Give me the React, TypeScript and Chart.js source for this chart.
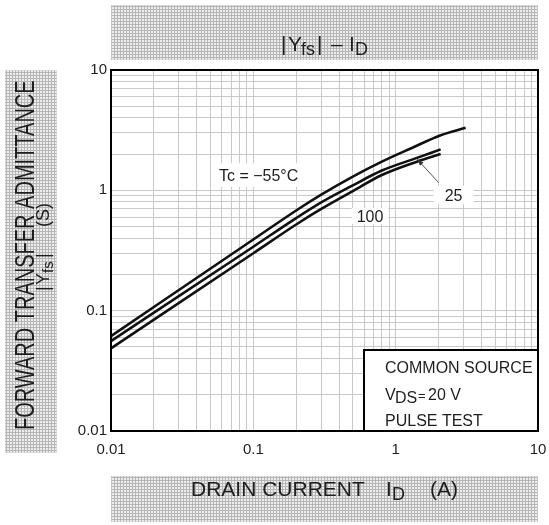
import React, { useEffect, useRef } from 'react';
import { Chart, registerables } from 'chart.js';

Chart.register(...registerables);

// Drain current ID (A) and forward transfer admittance |Yfs| (S)
const idCold = [0.01, 0.1, 0.2, 0.3, 0.5, 0.8, 1.3, 2.05, 3.1];
const yfsCold = [0.0615, 0.39, 0.68, 0.92, 1.3, 1.73, 2.25, 2.86, 3.31];
const idRoom = [0.01, 0.1, 0.2, 0.3, 0.5, 0.8, 1.41, 2.07];
const yfsRoom = [0.0559, 0.34, 0.588, 0.794, 1.1, 1.46, 1.86, 2.19];
const idHot = [0.01, 0.1, 0.2, 0.3, 0.5, 0.8, 1.41, 2.07];
const yfsHot = [0.0486, 0.3, 0.52, 0.7, 0.985, 1.34, 1.73, 2.0];

const seriesLabels = ['Tc = −55°C', '25', '100'];
const decades = [0.01, 0.1, 1, 10];
const tickLabels = ['0.01', '0.1', '1', '10'];
const minorSteps = [1, 2, 3, 4, 5, 6, 7, 8, 9];

const FONT = "'Liberation Sans', Arial, Helvetica, sans-serif";
const INK = '#1e1e1e';

type Run = [string, number, number, number]; // text, dx, size, dy

function drawRuns(ctx: CanvasRenderingContext2D, runs: Run[], x0: number, y0: number) {
  for (const [t, dx, size, dy] of runs) {
    ctx.font = `${size}px ${FONT}`;
    ctx.fillText(t, x0 + dx, y0 + dy);
  }
}

function makePattern(ctx: CanvasRenderingContext2D) {
  const c = document.createElement('canvas');
  c.width = 3;
  c.height = 3;
  const p = c.getContext('2d')!;
  p.fillStyle = '#ededed';
  p.fillRect(0, 0, 3, 3);
  p.fillStyle = '#b6b6b6';
  p.fillRect(0, 0, 3, 1);
  p.fillRect(0, 0, 1, 3);
  return ctx.createPattern(c, 'repeat')!;
}

function labelFor(v: number) {
  const i = decades.findIndex((d) => Math.abs(d - v) < d * 1e-6);
  return i >= 0 ? tickLabels[i] : '';
}

const gridValues = decades
  .slice(0, 3)
  .flatMap((d) => minorSteps.map((m) => +(d * m).toPrecision(3)))
  .concat([decades[3]]);

const annotations = [
  { text: seriesLabels[0], x: 0.109, y: 1.34, padX: 6, padY: 12 },
  { text: seriesLabels[1], x: 2.55, y: 0.914, padX: 11, padY: 9 },
  { text: seriesLabels[2], x: 0.66, y: 0.611, padX: 5, padY: 8 },
];
const arrowFrom = { x: 2.0, y: 1.16 };
const arrowTo = { x: 1.42, y: 1.81 };

const decor = {
  id: 'decor',
  beforeDraw(chart: any) {
    const ctx: CanvasRenderingContext2D = chart.ctx;
    ctx.save();
    ctx.fillStyle = '#ffffff';
    ctx.fillRect(0, 0, chart.width, chart.height);
    const pat = makePattern(ctx);
    const boxes = [
      [111, 5, 427, 55],
      [5, 70, 52, 383],
      [111, 476, 427, 46],
    ];
    for (const [x, y, w, h] of boxes) {
      ctx.fillStyle = pat;
      ctx.fillRect(x, y, w, h);
      ctx.strokeStyle = '#d4d4d4';
      ctx.lineWidth = 1;
      ctx.setLineDash([1, 1]);
      ctx.strokeRect(x + 0.5, y + 0.5, w - 1, h - 1);
      ctx.setLineDash([]);
    }
    ctx.fillStyle = INK;
    ctx.textAlign = 'left';
    ctx.textBaseline = 'alphabetic';
    // Title |Yfs| – ID
    drawRuns(ctx, [
      ['|', 0, 21, 0],
      ['Y', 7, 21, 0],
      ['fs', 20, 18, 4],
      ['|', 36, 21, 0],
      ['–', 50, 21, 0],
      ['I', 68, 21, 0],
      ['D', 74, 18, 4],
    ], 281, 51);
    // X axis title
    drawRuns(ctx, [
      ['DRAIN CURRENT', 0, 21, 0],
      ['I', 195, 21, 0],
      ['D', 201, 18, 4],
      ['(A)', 239, 21, 0],
    ], 191, 496);
    // Y axis title
    ctx.save();
    ctx.translate(34, 430);
    ctx.rotate(-Math.PI / 2);
    ctx.scale(1, 1.38);
    ctx.font = `20px ${FONT}`;
    ctx.fillText('FORWARD TRANSFER ADMITTANCE', 0, 0);
    ctx.restore();
    ctx.save();
    ctx.translate(49, 291);
    ctx.rotate(-Math.PI / 2);
    drawRuns(ctx, [
      ['|', 0, 18, 0],
      ['Y', 6, 18, 0],
      ['fs', 18, 15, 4],
      ['|', 33, 18, 0],
      ['(S)', 64, 18, 0],
    ], 0, 0);
    ctx.restore();
    ctx.restore();
  },
  beforeDatasetsDraw(chart: any) {
    const ctx: CanvasRenderingContext2D = chart.ctx;
    const xs = chart.scales.x;
    const ys = chart.scales.y;
    ctx.save();
    ctx.font = `16px ${FONT}`;
    ctx.textAlign = 'center';
    ctx.textBaseline = 'alphabetic';
    for (const a of annotations) {
      const cx = xs.getPixelForValue(a.x);
      const cy = ys.getPixelForValue(a.y);
      const w = ctx.measureText(a.text).width;
      ctx.fillStyle = '#ffffff';
      ctx.fillRect(cx - w / 2 - a.padX, cy - a.padY, w + 2 * a.padX, 2 * a.padY);
      ctx.fillStyle = INK;
      ctx.fillText(a.text, cx, cy + 5.8);
    }
    // Condition box
    const { right, bottom } = chart.chartArea;
    const bx = 364;
    const by = 350;
    ctx.fillStyle = '#ffffff';
    ctx.fillRect(bx, by, right - bx, bottom - by);
    ctx.strokeStyle = '#000';
    ctx.lineWidth = 2;
    ctx.strokeRect(bx, by, right - bx, bottom - by);
    ctx.fillStyle = INK;
    ctx.textAlign = 'left';
    drawRuns(ctx, [['COMMON SOURCE', 0, 16, 0]], 385, 373);
    drawRuns(ctx, [
      ['V', 0, 16, 0],
      ['DS', 10, 16, 3],
      ['=', 33, 13, 0],
      ['20 V', 43, 16, 0],
    ], 385, 400);
    drawRuns(ctx, [['PULSE TEST', 0, 16, 0]], 385, 426);
    ctx.restore();
  },
  afterDatasetsDraw(chart: any) {
    const ctx: CanvasRenderingContext2D = chart.ctx;
    const xs = chart.scales.x;
    const ys = chart.scales.y;
    ctx.save();
    const x1 = xs.getPixelForValue(arrowFrom.x);
    const y1 = ys.getPixelForValue(arrowFrom.y);
    const x2 = xs.getPixelForValue(arrowTo.x);
    const y2 = ys.getPixelForValue(arrowTo.y);
    ctx.strokeStyle = '#555';
    ctx.fillStyle = '#333';
    ctx.lineWidth = 1;
    ctx.beginPath();
    ctx.moveTo(x1, y1);
    ctx.lineTo(x2, y2);
    ctx.stroke();
    const ang = Math.atan2(y2 - y1, x2 - x1);
    const L = 7;
    const W = 0.35;
    ctx.beginPath();
    ctx.moveTo(x2, y2);
    ctx.lineTo(x2 - L * Math.cos(ang - W), y2 - L * Math.sin(ang - W));
    ctx.lineTo(x2 - L * Math.cos(ang + W), y2 - L * Math.sin(ang + W));
    ctx.closePath();
    ctx.fill();
    const { left, top, right, bottom } = chart.chartArea;
    ctx.strokeStyle = '#000';
    ctx.lineWidth = 2;
    ctx.strokeRect(left, top, right - left, bottom - top);
    ctx.restore();
  },
};

export default function App() {
  const ref = useRef<HTMLCanvasElement>(null);
  useEffect(() => {
    const canvas = ref.current!;
    Chart.defaults.font.family = FONT;
    const toPts = (xs: number[], ys: number[]) => xs.map((x, i) => ({ x, y: ys[i] }));
    const lineStyle = {
      borderColor: '#111',
      backgroundColor: '#111',
      borderWidth: 2.6,
      pointRadius: 0,
      tension: 0.4,
      cubicInterpolationMode: 'monotone' as const,
      fill: false,
    };
    const chart = new Chart(canvas, {
      type: 'line',
      data: {
        datasets: [
          { label: seriesLabels[0], data: toPts(idCold, yfsCold), ...lineStyle },
          { label: seriesLabels[1], data: toPts(idRoom, yfsRoom), ...lineStyle },
          { label: seriesLabels[2], data: toPts(idHot, yfsHot), ...lineStyle },
        ],
      },
      options: {
        responsive: false,
        maintainAspectRatio: false,
        animation: false,
        layout: { padding: { top: 70, right: 11, left: 0, bottom: 0 } },
        plugins: {
          legend: { display: false },
          tooltip: { enabled: false },
          title: { display: false },
        },
        scales: {
          x: {
            type: 'logarithmic',
            min: 0.01,
            max: 10,
            afterFit: (s: any) => {
              s.height = 94;
              s.paddingLeft = 0;
              s.paddingRight = 0;
            },
            afterBuildTicks: (s: any) => {
              s.ticks = gridValues.map((v) => ({ value: v }));
            },
            ticks: {
              autoSkip: false,
              maxRotation: 0,
              minRotation: 0,
              padding: 10,
              color: INK,
              font: { size: 15, family: FONT },
              callback: (v: any) => labelFor(Number(v)),
            },
            grid: { color: '#c9c9c9', lineWidth: 1, drawTicks: false },
            border: { display: false },
          },
          y: {
            type: 'logarithmic',
            min: 0.01,
            max: 10,
            afterFit: (s: any) => {
              s.width = 111;
              s.paddingTop = 0;
              s.paddingBottom = 0;
            },
            afterBuildTicks: (s: any) => {
              s.ticks = gridValues.map((v) => ({ value: v }));
            },
            ticks: {
              autoSkip: false,
              padding: 4,
              color: INK,
              font: { size: 15, family: FONT },
              callback: (v: any) => labelFor(Number(v)),
            },
            grid: { color: '#c9c9c9', lineWidth: 1, drawTicks: false },
            border: { display: false },
          },
        },
      } as any,
      plugins: [decor],
    });
    return () => chart.destroy();
  }, []);
  return (
    <div style={{ position: 'absolute', left: 0, top: 0, width: 549, height: 525, background: '#fff' }}>
      <canvas ref={ref} width={549} height={525} style={{ display: 'block' }} />
    </div>
  );
}
